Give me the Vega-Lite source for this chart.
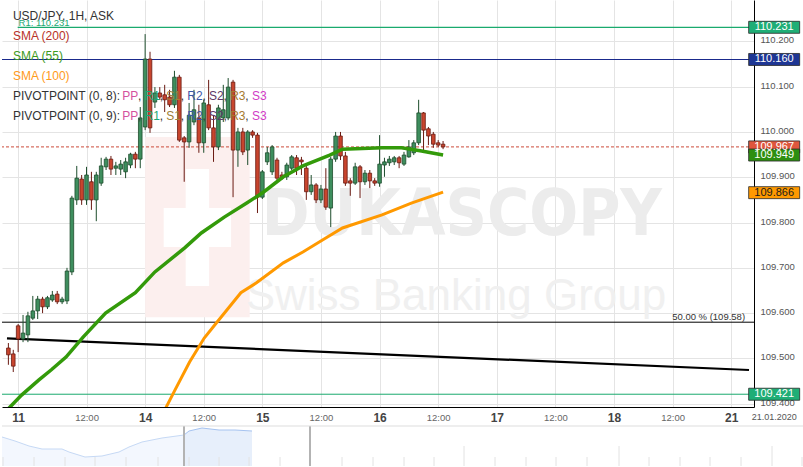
{
  "$schema": "https://vega.github.io/schema/vega-lite/v6.json",
  "background": "white",
  "padding": 0,
  "spacing": 2,
  "config": {"view": {"stroke": null}, "font": "Liberation Sans"},
  "datasets": {
    "candles": [
      {"t":-28,"o":109.523,"hi":109.534,"lo":109.486,"c":109.508},
      {"t":-27,"o":109.510,"hi":109.519,"lo":109.470,"c":109.483},
      {"t":-26,"o":109.572,"hi":109.576,"lo":109.514,"c":109.543},
      {"t":-25,"o":109.543,"hi":109.596,"lo":109.536,"c":109.556},
      {"t":-24,"o":109.552,"hi":109.603,"lo":109.536,"c":109.594},
      {"t":-23,"o":109.589,"hi":109.638,"lo":109.585,"c":109.605},
      {"t":-22,"o":109.605,"hi":109.638,"lo":109.587,"c":109.631},
      {"t":-21,"o":109.631,"hi":109.636,"lo":109.600,"c":109.614},
      {"t":-20,"o":109.614,"hi":109.638,"lo":109.609,"c":109.634},
      {"t":-19,"o":109.629,"hi":109.649,"lo":109.625,"c":109.640},
      {"t":-18,"o":109.642,"hi":109.649,"lo":109.620,"c":109.625},
      {"t":-17,"o":109.625,"hi":109.636,"lo":109.620,"c":109.631},
      {"t":-16,"o":109.627,"hi":109.700,"lo":109.620,"c":109.693},
      {"t":-15,"o":109.691,"hi":109.859,"lo":109.684,"c":109.854},
      {"t":-14,"o":109.850,"hi":109.925,"lo":109.839,"c":109.898},
      {"t":-13,"o":109.896,"hi":109.905,"lo":109.839,"c":109.850},
      {"t":-12,"o":109.850,"hi":109.923,"lo":109.839,"c":109.905},
      {"t":-11,"o":109.890,"hi":109.912,"lo":109.828,"c":109.850},
      {"t":-10,"o":109.850,"hi":109.912,"lo":109.803,"c":109.905},
      {"t":-9,"o":109.887,"hi":109.943,"lo":109.881,"c":109.925},
      {"t":-8,"o":109.923,"hi":109.945,"lo":109.916,"c":109.940},
      {"t":-7,"o":109.940,"hi":109.947,"lo":109.905,"c":109.918},
      {"t":-6,"o":109.920,"hi":109.934,"lo":109.905,"c":109.925},
      {"t":-5,"o":109.918,"hi":109.938,"lo":109.905,"c":109.929},
      {"t":-4,"o":109.912,"hi":109.943,"lo":109.898,"c":109.934},
      {"t":-3,"o":109.927,"hi":109.954,"lo":109.920,"c":109.951},
      {"t":-2,"o":109.951,"hi":109.956,"lo":109.920,"c":109.940},
      {"t":-1,"o":109.940,"hi":110.055,"lo":109.920,"c":110.031},
      {"t":0,"o":110.011,"hi":110.216,"lo":110.004,"c":110.161},
      {"t":1,"o":110.161,"hi":110.177,"lo":109.998,"c":110.009},
      {"t":2,"o":110.066,"hi":110.099,"lo":110.053,"c":110.086},
      {"t":3,"o":110.086,"hi":110.099,"lo":110.071,"c":110.077},
      {"t":4,"o":110.082,"hi":110.104,"lo":110.044,"c":110.071},
      {"t":5,"o":110.077,"hi":110.093,"lo":110.055,"c":110.060},
      {"t":6,"o":110.060,"hi":110.135,"lo":110.053,"c":110.121},
      {"t":7,"o":110.121,"hi":110.126,"lo":109.978,"c":109.982},
      {"t":8,"o":109.987,"hi":109.991,"lo":109.890,"c":109.978},
      {"t":9,"o":109.978,"hi":110.064,"lo":109.965,"c":110.037},
      {"t":10,"o":110.022,"hi":110.093,"lo":110.015,"c":110.049},
      {"t":11,"o":110.031,"hi":110.060,"lo":109.954,"c":109.976},
      {"t":12,"o":109.976,"hi":110.071,"lo":109.954,"c":110.064},
      {"t":13,"o":110.060,"hi":110.115,"lo":110.004,"c":110.009},
      {"t":14,"o":110.009,"hi":110.037,"lo":109.934,"c":109.967},
      {"t":15,"o":109.967,"hi":110.060,"lo":109.960,"c":110.053},
      {"t":16,"o":110.031,"hi":110.104,"lo":110.022,"c":110.049},
      {"t":17,"o":110.031,"hi":110.119,"lo":110.026,"c":110.099},
      {"t":18,"o":110.110,"hi":110.115,"lo":109.856,"c":109.960},
      {"t":19,"o":109.960,"hi":110.009,"lo":109.923,"c":110.000},
      {"t":20,"o":110.000,"hi":110.009,"lo":109.949,"c":109.956},
      {"t":21,"o":109.960,"hi":110.004,"lo":109.927,"c":110.000},
      {"t":22,"o":110.000,"hi":110.004,"lo":109.987,"c":109.993},
      {"t":23,"o":109.993,"hi":109.998,"lo":109.821,"c":109.856},
      {"t":24,"o":109.856,"hi":109.916,"lo":109.852,"c":109.912},
      {"t":25,"o":109.934,"hi":109.967,"lo":109.927,"c":109.954},
      {"t":26,"o":109.912,"hi":109.971,"lo":109.905,"c":109.967},
      {"t":27,"o":109.938,"hi":109.943,"lo":109.887,"c":109.898},
      {"t":28,"o":109.905,"hi":109.912,"lo":109.894,"c":109.898},
      {"t":29,"o":109.901,"hi":109.932,"lo":109.894,"c":109.927},
      {"t":30,"o":109.920,"hi":109.949,"lo":109.916,"c":109.945},
      {"t":31,"o":109.943,"hi":109.949,"lo":109.905,"c":109.920},
      {"t":32,"o":109.938,"hi":109.945,"lo":109.905,"c":109.934},
      {"t":33,"o":109.920,"hi":109.927,"lo":109.850,"c":109.868},
      {"t":34,"o":109.868,"hi":109.905,"lo":109.861,"c":109.883},
      {"t":35,"o":109.883,"hi":109.887,"lo":109.843,"c":109.850},
      {"t":36,"o":109.850,"hi":109.883,"lo":109.843,"c":109.874},
      {"t":37,"o":109.874,"hi":109.920,"lo":109.828,"c":109.834},
      {"t":38,"o":109.832,"hi":109.945,"lo":109.790,"c":109.940},
      {"t":39,"o":109.940,"hi":110.000,"lo":109.934,"c":109.991},
      {"t":40,"o":109.991,"hi":110.000,"lo":109.938,"c":109.947},
      {"t":41,"o":109.947,"hi":109.956,"lo":109.881,"c":109.887},
      {"t":42,"o":109.892,"hi":109.898,"lo":109.859,"c":109.887},
      {"t":43,"o":109.887,"hi":109.932,"lo":109.883,"c":109.923},
      {"t":44,"o":109.923,"hi":109.927,"lo":109.854,"c":109.890},
      {"t":45,"o":109.890,"hi":109.916,"lo":109.883,"c":109.909},
      {"t":46,"o":109.909,"hi":109.916,"lo":109.876,"c":109.892},
      {"t":47,"o":109.892,"hi":109.898,"lo":109.881,"c":109.887},
      {"t":48,"o":109.887,"hi":109.993,"lo":109.879,"c":109.929},
      {"t":49,"o":109.927,"hi":109.943,"lo":109.901,"c":109.934},
      {"t":50,"o":109.932,"hi":109.947,"lo":109.925,"c":109.940},
      {"t":51,"o":109.934,"hi":109.947,"lo":109.927,"c":109.943},
      {"t":52,"o":109.943,"hi":109.947,"lo":109.920,"c":109.932},
      {"t":53,"o":109.929,"hi":109.956,"lo":109.925,"c":109.949},
      {"t":54,"o":109.945,"hi":109.982,"lo":109.943,"c":109.967},
      {"t":55,"o":109.954,"hi":109.982,"lo":109.949,"c":109.976},
      {"t":56,"o":109.976,"hi":110.071,"lo":109.971,"c":110.042},
      {"t":57,"o":110.042,"hi":110.044,"lo":109.954,"c":110.004},
      {"t":58,"o":110.007,"hi":110.011,"lo":109.971,"c":109.991},
      {"t":59,"o":109.995,"hi":110.000,"lo":109.965,"c":109.973},
      {"t":60,"o":109.976,"hi":109.982,"lo":109.967,"c":109.971},
      {"t":61,"o":109.973,"hi":109.980,"lo":109.962,"c":109.967}
    ],
    "sma55": [
      {"t":-28.1,"p":109.388},{"t":-25.3,"p":109.419},{"t":-21.8,"p":109.452},{"t":-19.2,"p":109.475},
      {"t":-16.2,"p":109.503},{"t":-12.7,"p":109.547},{"t":-8.1,"p":109.600},{"t":-2.0,"p":109.645},
      {"t":2.0,"p":109.691},{"t":8.1,"p":109.744},{"t":11.5,"p":109.777},{"t":16.2,"p":109.812},
      {"t":20.8,"p":109.843},{"t":24.2,"p":109.867},{"t":28.3,"p":109.901},{"t":32.3,"p":109.925},
      {"t":37.8,"p":109.949},{"t":40.4,"p":109.962},{"t":48.5,"p":109.965},{"t":52.5,"p":109.965},
      {"t":56.6,"p":109.958},{"t":61.0,"p":109.949}
    ],
    "sma100": [
      {"t":4.0,"p":109.386},{"t":6.1,"p":109.430},{"t":9.1,"p":109.492},{"t":12.1,"p":109.545},
      {"t":14.7,"p":109.580},{"t":19.6,"p":109.645},{"t":22.8,"p":109.667},{"t":28.3,"p":109.711},
      {"t":32.3,"p":109.735},{"t":36.4,"p":109.762},{"t":40.4,"p":109.788},{"t":48.5,"p":109.817},
      {"t":54.5,"p":109.843},{"t":61.0,"p":109.867}
    ],
    "logo": [
      {"a":0,"b":21.4,"lo":109.591,"hi":109.989,"k":"bg"},
      {"a":8.3,"b":13.1,"lo":109.660,"hi":109.918,"k":"cross"},
      {"a":3.8,"b":17.6,"lo":109.746,"hi":109.832,"k":"cross"}
    ],
    "tags": [
      {"p":110.231,"k":"r1","label":"110.231"},
      {"p":110.160,"k":"lvl","label":"110.160"},
      {"p":109.967,"k":"cur","label":"109.967"},
      {"p":109.949,"k":"s55","label":"109.949"},
      {"p":109.866,"k":"s100","label":"109.866"},
      {"p":109.421,"k":"g","label":"109.421"}
    ],
    "legend": [
      {"s":"USD/JPY, 1H, ASK","x":-27.07,"p":110.2566,"k":"base"},
      {"s":"SMA (200)","x":-27.07,"p":110.2125,"k":"sma200"},
      {"s":"SMA (55)","x":-27.07,"p":110.1683,"k":"sma55"},
      {"s":"SMA (100)","x":-27.07,"p":110.1235,"k":"sma100"},
      {"s":"PIVOTPOINT (0, 8): ","x":-27.07,"p":110.0794,"k":"base"},
      {"s":"PP","x":-4.707,"p":110.0794,"k":"pp"},
      {"s":",","x":-1.475,"p":110.0794,"k":"base"},
      {"s":"R1","x":-0.121,"p":110.0794,"k":"r1"},
      {"s":",","x":2.970,"p":110.0794,"k":"base"},
      {"s":"S1","x":4.323,"p":110.0794,"k":"s1"},
      {"s":",","x":7.293,"p":110.0794,"k":"base"},
      {"s":"R2","x":8.646,"p":110.0794,"k":"r2"},
      {"s":",","x":11.737,"p":110.0794,"k":"base"},
      {"s":"S2","x":13.091,"p":110.0794,"k":"s2"},
      {"s":",","x":16.061,"p":110.0794,"k":"base"},
      {"s":"R3","x":17.414,"p":110.0794,"k":"r3"},
      {"s":",","x":20.505,"p":110.0794,"k":"base"},
      {"s":"S3","x":21.859,"p":110.0794,"k":"s3"},
      {"s":"PIVOTPOINT (0, 9): ","x":-27.07,"p":110.0352,"k":"base"},
      {"s":"PP","x":-4.707,"p":110.0352,"k":"pp"},
      {"s":",","x":-1.475,"p":110.0352,"k":"base"},
      {"s":"R1","x":-0.121,"p":110.0352,"k":"r1"},
      {"s":",","x":2.970,"p":110.0352,"k":"base"},
      {"s":"S1","x":4.323,"p":110.0352,"k":"s1"},
      {"s":",","x":7.293,"p":110.0352,"k":"base"},
      {"s":"R2","x":8.646,"p":110.0352,"k":"r2"},
      {"s":",","x":11.737,"p":110.0352,"k":"base"},
      {"s":"S2","x":13.091,"p":110.0352,"k":"s2"},
      {"s":",","x":16.061,"p":110.0352,"k":"base"},
      {"s":"R3","x":17.414,"p":110.0352,"k":"r3"},
      {"s":",","x":20.505,"p":110.0352,"k":"base"},
      {"s":"S3","x":21.859,"p":110.0352,"k":"s3"}
    ],
    "navA": [
      {"x":0,"v":29},{"x":13,"v":25},{"x":27,"v":20},{"x":40,"v":17},{"x":60,"v":17},{"x":67,"v":14},
      {"x":83,"v":9},{"x":100,"v":10},{"x":117,"v":14},{"x":127,"v":19},{"x":140,"v":24},{"x":160,"v":28},{"x":182,"v":31}
    ],
    "navB": [
      {"x":182,"v":31},{"x":187,"v":35},{"x":200,"v":38},{"x":217,"v":36},{"x":233,"v":36},{"x":250,"v":35}
    ],
    "navTicks": [
      {"x":1},{"x":32},{"x":63},{"x":93},{"x":124},{"x":156},{"x":187},{"x":217},{"x":247},{"x":278},
      {"x":340},{"x":371},{"x":402},{"x":432},{"x":493},{"x":524},{"x":554},{"x":585},{"x":647},
      {"x":678},{"x":708},{"x":739},{"x":800}
    ],
    "navTall": [{"x":462},{"x":617},{"x":770}],
    "navSep": [{"x":182},{"x":308}]
  },
  "vconcat": [
    {
      "width": 752,
      "height": 407,
      "layer": [
        {
          "data": {"name": "logo"},
          "mark": {"type": "rect"},
          "encoding": {
            "x": {"field": "a", "type": "quantitative",
              "scale": {"domain": [-28.2828, 123.6364], "nice": false, "zero": false},
              "axis": {
                "title": null, "orient": "bottom",
                "values": [-26, -12, 0, 12, 24, 36, 48, 60, 72, 84, 96, 108, 120],
                "labelExpr": "datum.value == -26 ? '11' : datum.value == 0 ? '14' : datum.value == 24 ? '15' : datum.value == 48 ? '16' : datum.value == 72 ? '17' : datum.value == 96 ? '18' : datum.value == 120 ? '21' : '12:00'",
                "grid": true, "gridColor": "#e4e4e4", "ticks": false, "tickSize": 0,
                "domainColor": "#000000", "labelPadding": 10, "labelBaseline": "middle",
                "labelFlush": false, "labelOverlap": false,
                "labelFontWeight": {"condition": {"test": "indexof([-26,0,24,48,72,96,120], datum.value) >= 0", "value": "bold"}, "value": "normal"},
                "labelFontSize": {"condition": {"test": "indexof([-26,0,24,48,72,96,120], datum.value) >= 0", "value": 12}, "value": 9.5},
                "labelColor": {"condition": {"test": "indexof([-26,0,24,48,72,96,120], datum.value) >= 0", "value": "#444444"}, "value": "#666666"}
              }
            },
            "x2": {"field": "b"},
            "y": {"field": "lo", "type": "quantitative",
              "scale": {"domain": [109.3928, 110.2913], "nice": false, "zero": false},
              "axis": {
                "title": null, "orient": "right",
                "values": [109.4, 109.45, 109.5, 109.55, 109.6, 109.65, 109.7, 109.75, 109.8, 109.85, 109.9, 109.95, 110.0, 110.05, 110.1, 110.15, 110.2, 110.25],
                "format": ".3f", "grid": true, "gridColor": "#e4e4e4", "ticks": false, "tickSize": 0,
                "domainColor": "#000000", "labelPadding": 6, "labelFontSize": 9.5, "labelColor": "#555555",
                "labelFlush": false, "labelOverlap": false, "labelOffset": -1.5
              }
            },
            "y2": {"field": "hi"},
            "color": {"condition": {"test": "datum.k == 'bg'", "value": "#fcefee"}, "value": "#ffffff"}
          }
        },
        {
          "data": {"values": [{}]},
          "mark": {"type": "text", "text": "DUKASCOPY", "fontSize": 64, "fontWeight": "bold", "font": "Liberation Sans Narrow, DejaVu Sans Condensed, Liberation Sans", "color": "#ececec", "align": "center", "baseline": "alphabetic"},
          "encoding": {"x": {"datum": 64.85, "type": "quantitative"}, "y": {"datum": 109.773, "type": "quantitative"}}
        },
        {
          "data": {"values": [{}]},
          "mark": {"type": "text", "text": "Swiss Banking Group", "fontSize": 44, "color": "#f0f0f0", "align": "center", "baseline": "alphabetic"},
          "encoding": {"x": {"datum": 63.64, "type": "quantitative"}, "y": {"datum": 109.607, "type": "quantitative"}}
        },
        {
          "data": {"values": [{}]},
          "mark": {"type": "rule", "color": "#1aaa6e", "strokeWidth": 1.2},
          "encoding": {"x": {"datum": -26.1, "type": "quantitative"}, "x2": {"datum": 123.6364}, "y": {"datum": 110.231, "type": "quantitative"}}
        },
        {
          "data": {"values": [{}]},
          "mark": {"type": "rule", "color": "#1a2a8c", "strokeWidth": 1.2},
          "encoding": {"y": {"datum": 110.160, "type": "quantitative"}}
        },
        {
          "data": {"values": [{}]},
          "mark": {"type": "rule", "color": "#1aaa6e", "strokeWidth": 1},
          "encoding": {"y": {"datum": 109.421, "type": "quantitative"}}
        },
        {
          "data": {"values": [{}]},
          "mark": {"type": "rule", "color": "#000000", "strokeWidth": 1},
          "encoding": {"y": {"datum": 109.58, "type": "quantitative"}}
        },
        {
          "data": {"values": [{}]},
          "mark": {"type": "text", "text": "50.00 % (109.58)", "fontSize": 9.5, "color": "#333333", "align": "right", "baseline": "middle"},
          "encoding": {"x": {"datum": 122.83, "type": "quantitative"}, "y": {"datum": 109.5915, "type": "quantitative"}}
        },
        {
          "data": {"values": [{}]},
          "mark": {"type": "rule", "color": "#000000", "strokeWidth": 2.2},
          "encoding": {"x": {"datum": -28.2828, "type": "quantitative"}, "x2": {"datum": 123.6364}, "y": {"datum": 109.5445, "type": "quantitative"}, "y2": {"datum": 109.4745}}
        },
        {
          "data": {"values": [{}]},
          "mark": {"type": "rule", "color": "#cc4a3a", "strokeWidth": 1, "strokeDash": [3, 2]},
          "encoding": {"y": {"datum": 109.967, "type": "quantitative"}}
        },
        {
          "data": {"name": "candles"},
          "mark": {"type": "rule", "strokeWidth": 1, "clip": true},
          "encoding": {
            "x": {"field": "t", "type": "quantitative"},
            "y": {"field": "lo", "type": "quantitative"},
            "y2": {"field": "hi"},
            "color": {"condition": {"test": "datum.c >= datum.o", "value": "#1d4d2c"}, "value": "#6a1a12"}
          }
        },
        {
          "data": {"name": "candles"},
          "mark": {"type": "bar", "width": 3.6, "strokeWidth": 0.8, "clip": true},
          "encoding": {
            "x": {"field": "t", "type": "quantitative"},
            "y": {"field": "o", "type": "quantitative"},
            "y2": {"field": "c"},
            "fill": {"condition": {"test": "datum.c >= datum.o", "value": "#3e8e5e"}, "value": "#c8452e"},
            "stroke": {"condition": {"test": "datum.c >= datum.o", "value": "#1d4d2c"}, "value": "#6a1a12"}
          }
        },
        {
          "data": {"name": "sma100"},
          "mark": {"type": "line", "color": "#ff9900", "strokeWidth": 3, "clip": true},
          "encoding": {"x": {"field": "t", "type": "quantitative"}, "y": {"field": "p", "type": "quantitative"}}
        },
        {
          "data": {"name": "sma55"},
          "mark": {"type": "line", "color": "#339a0a", "strokeWidth": 3.5, "clip": true},
          "encoding": {"x": {"field": "t", "type": "quantitative"}, "y": {"field": "p", "type": "quantitative"}}
        },
        {
          "data": {"name": "legend"},
          "mark": {"type": "text", "fontSize": 12, "align": "left", "baseline": "middle"},
          "encoding": {
            "x": {"field": "x", "type": "quantitative"},
            "y": {"field": "p", "type": "quantitative"},
            "text": {"field": "s"},
            "color": {"field": "k", "type": "nominal", "legend": null,
              "scale": {"domain": ["base", "sma200", "sma55", "sma100", "pp", "r1", "s1", "r2", "s2", "r3", "s3"],
                        "range": ["#333333", "#b83228", "#3d9a1c", "#ff9a1a", "#d4529e", "#1aa874", "#a08038", "#3d58a8", "#5e3868", "#a57a30", "#d03cc6"]}}
          }
        },
        {
          "data": {"values": [{}]},
          "mark": {"type": "text", "text": "R1: 110.231", "fontSize": 9.5, "color": "#22a872", "align": "left", "baseline": "middle"},
          "encoding": {"x": {"datum": -25.92, "type": "quantitative"}, "y": {"datum": 110.2405, "type": "quantitative"}}
        },
        {
          "data": {"name": "tags"},
          "mark": {"type": "point", "shape": "M-1,-0.235H1V0.235H-1Z", "size": 2601, "filled": true, "opacity": 1, "stroke": "#2a2a2a", "strokeWidth": 0.8},
          "encoding": {
            "x": {"datum": 128.79, "type": "quantitative"},
            "y": {"field": "p", "type": "quantitative"},
            "fill": {"field": "k", "type": "nominal", "legend": null,
              "scale": {"domain": ["r1", "lvl", "cur", "s55", "s100", "g"],
                        "range": ["#1fae76", "#1e3694", "#df563d", "#2e8f10", "#ff9900", "#1fae76"]}}
          }
        },
        {
          "data": {"name": "tags"},
          "mark": {"type": "text", "fontSize": 11, "align": "center", "baseline": "middle"},
          "encoding": {
            "x": {"datum": 128.79, "type": "quantitative"},
            "y": {"field": "p", "type": "quantitative"},
            "text": {"field": "label"},
            "color": {"condition": {"test": "datum.k == 's100'", "value": "#1a1a1a"}, "value": "#ffffff"}
          }
        },
        {
          "data": {"values": [{}]},
          "mark": {"type": "text", "text": "21.01.2020", "fontSize": 9, "color": "#555555", "align": "center", "baseline": "middle"},
          "encoding": {"x": {"datum": 128.79, "type": "quantitative"}, "y": {"datum": 109.3708, "type": "quantitative"}}
        }
      ]
    },
    {
      "width": 803,
      "height": 40,
      "layer": [
        {
          "data": {"name": "navA"},
          "mark": {"type": "area", "color": "#eef4fd", "line": {"color": "#c6d9f5", "strokeWidth": 1}},
          "encoding": {
            "x": {"field": "x", "type": "quantitative", "scale": {"domain": [0, 803], "nice": false, "zero": false}, "axis": null},
            "y": {"field": "v", "type": "quantitative", "scale": {"domain": [0, 40], "nice": false}, "axis": null}
          }
        },
        {
          "data": {"name": "navB"},
          "mark": {"type": "area", "color": "#dde8fa", "line": {"color": "#a6c3f0", "strokeWidth": 1}},
          "encoding": {
            "x": {"field": "x", "type": "quantitative"},
            "y": {"field": "v", "type": "quantitative"}
          }
        },
        {
          "data": {"name": "navTicks"},
          "mark": {"type": "rule", "color": "#e2e2e2", "strokeWidth": 1},
          "encoding": {
            "x": {"field": "x", "type": "quantitative"},
            "y": {"datum": 0, "type": "quantitative"},
            "y2": {"datum": 9}
          }
        },
        {
          "data": {"name": "navTall"},
          "mark": {"type": "rule", "color": "#e2e2e2", "strokeWidth": 1},
          "encoding": {
            "x": {"field": "x", "type": "quantitative"},
            "y": {"datum": 0, "type": "quantitative"},
            "y2": {"datum": 20}
          }
        },
        {
          "data": {"name": "navSep"},
          "mark": {"type": "rule", "color": "#b3b3b3", "strokeWidth": 2},
          "encoding": {
            "x": {"field": "x", "type": "quantitative"},
            "y": {"datum": 0, "type": "quantitative"},
            "y2": {"datum": 40}
          }
        },
        {
          "data": {"values": [{}]},
          "mark": {"type": "rule", "color": "#dddddd", "strokeWidth": 1},
          "encoding": {"y": {"datum": 40, "type": "quantitative"}}
        }
      ]
    }
  ]
}
